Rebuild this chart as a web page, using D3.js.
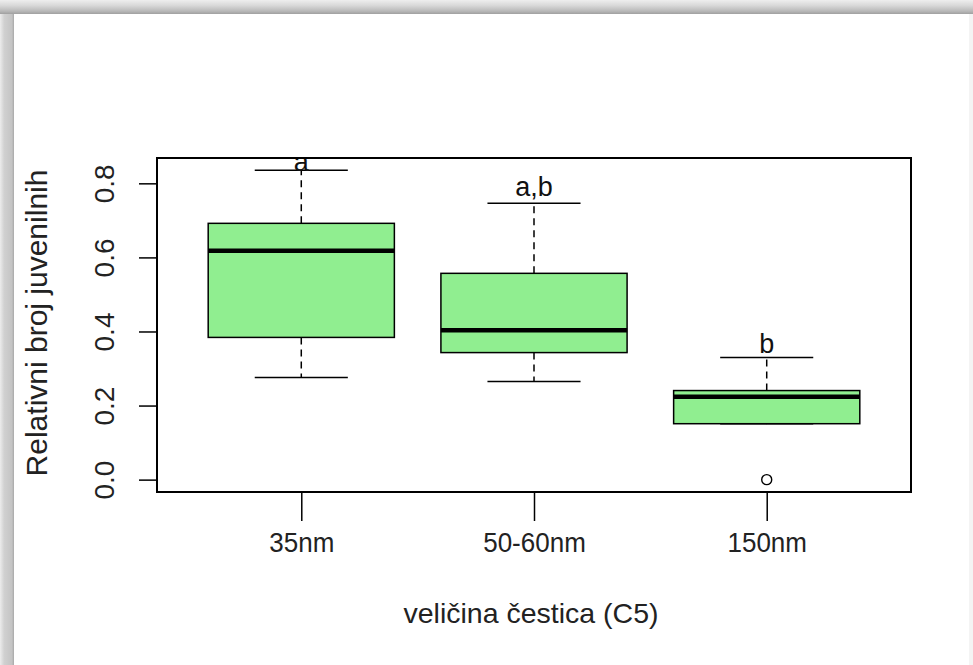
<!DOCTYPE html>
<html>
<head>
<meta charset="utf-8">
<script src="https://cdn.jsdelivr.net/npm/d3@7"></script>
<style>
  html, body { margin: 0; padding: 0; background: #fff; }
  svg { display: block; font-family: "Liberation Sans", Arial, sans-serif; }
</style>
</head>
<body>
<svg id="chart" width="973" height="665"></svg>
<script>
// ---- data ----
const categories = ["35nm", "50-60nm", "150nm"];
const whiskerLow = [0.276, 0.265, 0.151];
const q1 = [0.384, 0.343, 0.151];
const medians = [0.618, 0.403, 0.224];
const q3 = [0.692, 0.557, 0.2405];
const whiskerHigh = [0.835, 0.746, 0.330];
const outliers = [[], [], [0.0]];
const letters = ["a", "a,b", "b"];
const letterY = [0.832, 0.766, 0.343];
const yTicks = [0.0, 0.2, 0.4, 0.6, 0.8];
const xTitle = "veličina čestica (C5)";
const yTitle = "Relativni broj juvenilnih";

// ---- layout ----
const W = 973, H = 665;
const plot = { left: 157, right: 911, top: 158, bottom: 492 };
const svg = d3.select("#chart");

// decorative frame (shadow border of the picture)
const defs = svg.append("defs");
const gTop = defs.append("linearGradient").attr("id", "gTop").attr("x1", 0).attr("y1", 0).attr("x2", 0).attr("y2", 1);
gTop.append("stop").attr("offset", "0%").attr("stop-color", "#eeeeee");
gTop.append("stop").attr("offset", "40%").attr("stop-color", "#d8d8d8");
gTop.append("stop").attr("offset", "80%").attr("stop-color", "#b8b8b8");
gTop.append("stop").attr("offset", "100%").attr("stop-color", "#a0a0a0");
const gLeft = defs.append("linearGradient").attr("id", "gLeft").attr("x1", 0).attr("y1", 0).attr("x2", 1).attr("y2", 0);
gLeft.append("stop").attr("offset", "0%").attr("stop-color", "#ececec");
gLeft.append("stop").attr("offset", "30%").attr("stop-color", "#d0d0d0");
gLeft.append("stop").attr("offset", "85%").attr("stop-color", "#c4c4c4");
gLeft.append("stop").attr("offset", "100%").attr("stop-color", "#a8a8a8");
svg.append("rect").attr("x", 0).attr("y", 0).attr("width", W).attr("height", H).attr("fill", "#fff");
svg.append("rect").attr("x", 0).attr("y", 0).attr("width", 14).attr("height", H).attr("fill", "url(#gLeft)");
svg.append("rect").attr("x", 0).attr("y", 0).attr("width", W).attr("height", 14).attr("fill", "url(#gTop)");
svg.append("rect").attr("x", W - 4).attr("y", 14).attr("width", 4).attr("height", H - 14).attr("fill", "#f4f4f4");

// ---- scales ----
const allVals = whiskerLow.concat(whiskerHigh, outliers.flat());
const vmin = d3.min(allVals), vmax = d3.max(allVals), r = vmax - vmin;
const y = d3.scaleLinear().domain([vmin - 0.04 * r, vmax + 0.04 * r]).range([plot.bottom, plot.top]);
const n = categories.length;
const x = d3.scaleLinear().domain([0.5 - n * 0.04, n + 0.5 + n * 0.04]).range([plot.left, plot.right]);
const boxHalf = x(1.4) - x(1);
const capHalf = boxHalf / 2;

// clip to plot region
defs.append("clipPath").attr("id", "plotClip").append("rect")
  .attr("x", plot.left).attr("y", plot.top)
  .attr("width", plot.right - plot.left).attr("height", plot.bottom - plot.top);

const g = svg.append("g").attr("clip-path", "url(#plotClip)");

categories.forEach((c, i) => {
  const cx = x(i + 1);
  // whiskers (dashed)
  g.append("line").attr("x1", cx).attr("x2", cx).attr("y1", y(q3[i])).attr("y2", y(whiskerHigh[i]))
    .attr("stroke", "#000").attr("stroke-width", 1.5).attr("stroke-dasharray", "7,5");
  g.append("line").attr("x1", cx).attr("x2", cx).attr("y1", y(q1[i])).attr("y2", y(whiskerLow[i]))
    .attr("stroke", "#000").attr("stroke-width", 1.5).attr("stroke-dasharray", "7,5");
  // caps
  [whiskerHigh[i], whiskerLow[i]].forEach(v => {
    g.append("line").attr("x1", cx - capHalf).attr("x2", cx + capHalf).attr("y1", y(v)).attr("y2", y(v))
      .attr("stroke", "#000").attr("stroke-width", 1.5);
  });
  // box
  g.append("rect").attr("x", cx - boxHalf).attr("width", 2 * boxHalf)
    .attr("y", y(q3[i])).attr("height", y(q1[i]) - y(q3[i]))
    .attr("fill", "#90ee90").attr("stroke", "#000").attr("stroke-width", 1.5);
  // median
  g.append("line").attr("x1", cx - boxHalf).attr("x2", cx + boxHalf).attr("y1", y(medians[i])).attr("y2", y(medians[i]))
    .attr("stroke", "#000").attr("stroke-width", 4.5);
  // outliers
  outliers[i].forEach(v => {
    g.append("circle").attr("cx", cx).attr("cy", y(v)).attr("r", 5)
      .attr("fill", "none").attr("stroke", "#000").attr("stroke-width", 1.4);
  });
  // significance letters
  g.append("text").attr("x", cx).attr("y", y(letterY[i])).attr("text-anchor", "middle")
    .attr("font-size", 27).attr("fill", "#111").text(letters[i]);
});

// plot box
svg.append("rect").attr("x", plot.left).attr("y", plot.top)
  .attr("width", plot.right - plot.left).attr("height", plot.bottom - plot.top)
  .attr("fill", "none").attr("stroke", "#000").attr("stroke-width", 2);

// ---- axes ----
const yAxis = d3.axisLeft(y).tickValues(yTicks).tickSize(18).tickPadding(0).tickFormat(d3.format(".1f"));
const ya = svg.append("g").attr("transform", `translate(${plot.left},0)`).call(yAxis);
ya.select(".domain").remove();
ya.selectAll(".tick line").attr("stroke", "#000").attr("stroke-width", 1.5);
ya.selectAll(".tick text").attr("font-size", 28).attr("fill", "#222")
  .attr("text-anchor", "middle").attr("dy", null)
  .attr("transform", "translate(-43,0) rotate(-90)").attr("x", 0).attr("y", 0);

const xAxis = d3.axisBottom(x).tickValues(d3.range(1, n + 1)).tickSize(29).tickPadding(0)
  .tickFormat(d => categories[d - 1]);
const xa = svg.append("g").attr("transform", `translate(0,${plot.bottom})`).call(xAxis);
xa.select(".domain").remove();
xa.selectAll(".tick line").attr("stroke", "#000").attr("stroke-width", 1.5);
xa.selectAll(".tick text").attr("font-size", 26).attr("fill", "#222").attr("dy", null).attr("y", 61)
  .attr("transform", "scale(1,1.08)").attr("y", 56);

// titles
svg.append("text").attr("x", (plot.left + plot.right) / 2 - 3).attr("y", 623).attr("text-anchor", "middle")
  .attr("font-size", 28.5).attr("fill", "#222").text(xTitle);
svg.append("text").attr("transform", `translate(47,323) rotate(-90)`)
  .attr("text-anchor", "middle").attr("font-size", 30).attr("fill", "#222").text(yTitle);
</script>
</body>
</html>
